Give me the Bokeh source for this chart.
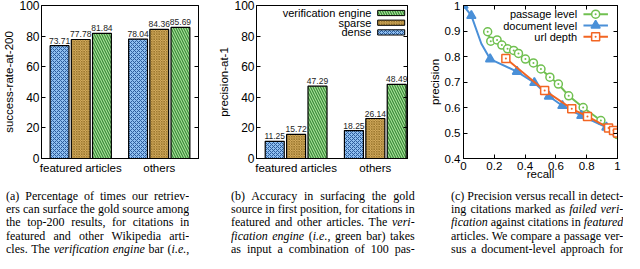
from bokeh.plotting import figure
from bokeh.layouts import row, column
from bokeh.models import Range1d, FixedTicker, LinearAxis, Div, Spacer, NumeralTickFormatter
from bokeh.core.properties import value
from bokeh.embed import file_html
from bokeh.resources import INLINE

# ---------------- data ----------------
groups = ["featured articles", "others"]
series = ["dense", "sparse", "verification engine"]
success_dense = [73.71, 78.04]
success_sparse = [77.78, 84.36]
success_verification = [81.84, 85.69]
precision_dense = [11.25, 18.25]
precision_sparse = [15.72, 26.14]
precision_verification = [47.29, 48.49]
bar_ticks = [0, 20, 40, 60, 80, 100]

passage_recall = [0.157, 0.177, 0.218, 0.249, 0.286, 0.326, 0.357, 0.402, 0.454,
                  0.503, 0.561, 0.616, 0.683, 0.777, 0.892, 1.0]
passage_precision = [0.897, 0.860, 0.865, 0.845, 0.830, 0.824, 0.812, 0.790, 0.775,
                     0.751, 0.719, 0.692, 0.646, 0.600, 0.549, 0.494]
document_recall = [0.0, 0.051, 0.116, 0.173, 0.347, 0.46, 0.555, 0.642, 0.765, 0.928, 1.0]
document_precision = [1.0, 0.960, 0.850, 0.790, 0.741, 0.697, 0.644, 0.607, 0.568, 0.522, 0.498]
document_marked = [True, True, False, True, True, True, True, True, True, True, True]
url_recall = [0.275, 0.527, 0.703, 0.805, 0.942, 0.974, 1.0]
url_precision = [0.792, 0.667, 0.595, 0.565, 0.520, 0.510, 0.500]
pr_xticks = [0, 0.2, 0.4, 0.6, 0.8, 1.0]
pr_yticks = [0.4, 0.5, 0.6, 0.7, 0.8, 0.9, 1.0]
pr_series = ["passage level", "document level", "url depth"]

caption_a = [
    "(a) Percentage of times our retriev-",
    "ers can surface the gold source among",
    "the top-200 results, for citations in",
    "featured and other Wikipedia arti-",
    "cles. The <i>verification engine</i> bar (<i>i.e.</i>,",
]
caption_b = [
    "(b) Accuracy in surfacing the gold",
    "source in first position, for citations in",
    "featured and other articles. The <i>veri-</i>",
    "<i>fication engine</i> (<i>i.e.</i>, green bar) takes",
    "as input a combination of 100 pas-",
]
caption_c = [
    "(c) Precision versus recall in detect-",
    "ing citations marked as <i>failed veri-</i>",
    "<i>fication</i> against citations in <i>featured</i>",
    "articles. We compare a passage ver-",
    "sus a document-level approach for",
]

# ---------------- styles ----------------
SANS = "Liberation Sans"
BAR_STYLE = {
    "dense": dict(fill_color="#8fbff0", hatch_pattern="diagonal_cross",
                  hatch_color="#2c5c9c", hatch_scale=4, hatch_weight=1),
    "sparse": dict(fill_color="#d8b062", hatch_pattern="diagonal_cross",
                   hatch_color="#8a6820", hatch_scale=2.5, hatch_weight=0.7),
    "verification engine": dict(fill_color="#a8e298", hatch_pattern="left_diagonal_line",
                                hatch_color="#3a8a3a", hatch_scale=5, hatch_weight=1.2),
}
PR_COLOR = {"passage level": "#70c050", "document level": "#4a90d8", "url depth": "#f26522"}
PR_MARKER = {"passage level": "circle_dot", "document level": "triangle", "url depth": "square_dot"}
PITCH = 0.27
BAR_W = 0.24


def style_axis(ax, size="12px"):
    ax.major_tick_in = 4
    ax.major_tick_out = 0
    ax.minor_tick_in = 0
    ax.minor_tick_out = 0
    ax.axis_line_color = "black"
    ax.major_tick_line_color = "black"
    ax.major_label_text_font = SANS
    ax.major_label_text_font_size = size
    ax.major_label_text_color = "black"
    ax.axis_label_text_font = SANS
    ax.axis_label_text_font_size = "11.5px"
    ax.axis_label_text_font_style = "normal"
    ax.axis_label_text_color = "black"


def base_figure(width, x_range, y_range, left, right, top, bottom):
    p = figure(width=width, height=182, x_range=x_range, y_range=y_range,
               output_backend="svg", toolbar_location=None,
               min_border_left=left, min_border_right=right,
               min_border_top=top, min_border_bottom=bottom)
    p.xgrid.visible = False
    p.ygrid.visible = False
    p.outline_line_color = "black"
    p.outline_line_width = 1
    p.outline_line_alpha = 1
    p.background_fill_color = "white"
    p.border_fill_color = "white"
    return p


def mirror_axis(p, ticks, place):
    ax = LinearAxis(ticker=FixedTicker(ticks=ticks))
    style_axis(ax)
    ax.major_label_overrides = {t: "" for t in ticks}
    ax.major_label_standoff = 0
    p.add_layout(ax, place)


def bar_figure(values, ylabel, x_end, width, left, right, legend=False):
    p = base_figure(width, Range1d(0, x_end), Range1d(0, 100), left, right, 5, 17)
    ng = len(groups)
    for si, (name, vals) in enumerate(zip(series, values)):
        xs = [gi + 0.5 + (si - 1) * PITCH for gi in range(ng)]
        p.vbar(x=xs, top=vals, bottom=0, width=BAR_W, line_color="black",
               line_width=1.2, **BAR_STYLE[name])
        p.text(x=xs, y=vals, text=[f"{v:.2f}" for v in vals], text_align="center",
               text_baseline="bottom", y_offset=-2, text_font=value(SANS),
               text_font_size=value("8.5px"), text_color="#222222")
    xa = p.xaxis[0]
    style_axis(xa, "11.5px")
    xa.ticker = FixedTicker(ticks=[gi + 0.5 for gi in range(ng)])
    xa.major_label_overrides = {gi + 0.5: g for gi, g in enumerate(groups)}
    xa.major_tick_in = 0
    xa.major_label_standoff = 3
    ya = p.yaxis[0]
    style_axis(ya)
    ya.ticker = FixedTicker(ticks=bar_ticks)
    ya.axis_label = ylabel
    ya.axis_label_standoff = 1
    ya.major_label_standoff = 2
    mirror_axis(p, bar_ticks, "right")
    if legend:
        for k, name in enumerate(reversed(series)):
            yk = 95.1 - k * 6.35
            p.text(x=[0.761 * x_end], y=[yk], text=[name], text_align="right",
                   text_baseline="middle", text_font=value(SANS),
                   text_font_size=value("11px"), text_color="black")
            p.rect(x=[0.892 * x_end], y=[yk], width=0.179 * x_end, height=3.4,
                   line_color="black", line_width=1, **BAR_STYLE[name])
    return p


fa = bar_figure([success_dense, success_sparse, success_verification],
                "success-rate-at-200", 2.0, 215, 32, 17)
fb = bar_figure([precision_dense, precision_sparse, precision_verification],
                "precision-at-1", 1.906, 210, 34, 18, legend=True)

# ---------------- precision / recall ----------------
fc = base_figure(199, Range1d(0, 1), Range1d(0.4, 1.0), 33, 7, 5, 22)
pr_data = {
    "passage level": (passage_recall, passage_precision, [True] * len(passage_recall)),
    "document level": (document_recall, document_precision, document_marked),
    "url depth": (url_recall, url_precision, [True] * len(url_recall)),
}
for name in ["passage level", "document level", "url depth"]:
    rx, py, mk = pr_data[name]
    col = PR_COLOR[name]
    fc.line(rx, py, line_color=col, line_width=2)
    mx = [r for r, m in zip(rx, mk) if m]
    my = [v for v, m in zip(py, mk) if m]
    filled = name == "document level"
    fc.scatter(mx, my, marker=PR_MARKER[name], size=9 if filled else 8,
               line_color=col, fill_color=col if filled else "white", line_width=1.5)

for k, name in enumerate(pr_series):
    yk = 0.966 - k * 0.0445
    col = PR_COLOR[name]
    filled = name == "document level"
    fc.text(x=[0.738], y=[yk], text=[name], text_align="right", text_baseline="middle",
            text_font=value(SANS), text_font_size=value("11px"), text_color="black")
    fc.segment(x0=[0.779], y0=[yk], x1=[0.938], y1=[yk], line_color=col, line_width=2)
    fc.scatter(x=[0.858], y=[yk], marker=PR_MARKER[name], size=9 if filled else 8,
               line_color=col, fill_color=col if filled else "white", line_width=1.5)

xa = fc.xaxis[0]
style_axis(xa, "11.5px")
xa.ticker = FixedTicker(ticks=pr_xticks)
xa.formatter = NumeralTickFormatter(format="0.[0]")
xa.axis_label = "recall"
xa.major_label_standoff = 3
xa.axis_label_standoff = -5
ya = fc.yaxis[0]
style_axis(ya, "11.5px")
ya.ticker = FixedTicker(ticks=pr_yticks)
ya.formatter = NumeralTickFormatter(format="0.[0]")
ya.axis_label = "precision"
ya.axis_label_standoff = 1
ya.major_label_standoff = 3
mirror_axis(fc, pr_yticks, "right")
mirror_axis(fc, pr_xticks, "above")


# ---------------- captions ----------------
def caption(lines, width):
    html = "".join(
        f'<div style="text-align:justify;text-align-last:justify;white-space:nowrap;'
        f'height:13.2px;overflow:hidden;">{ln}</div>' for ln in lines)
    return Div(text=html, width=width, height=71,
               styles={"font-family": "'Liberation Serif', 'DejaVu Serif', serif",
                       "font-size": "12px", "line-height": "13.2px",
                       "color": "black", "padding-top": "3px"})


captions = row(Spacer(width=1, height=71), caption(caption_a, 205), Spacer(width=10, height=71),
               caption(caption_b, 193), Spacer(width=17, height=71), caption(caption_c, 197))
layout = column(row(fa, fb, fc), captions)

open("out.html", "w").write(file_html(layout, INLINE))
